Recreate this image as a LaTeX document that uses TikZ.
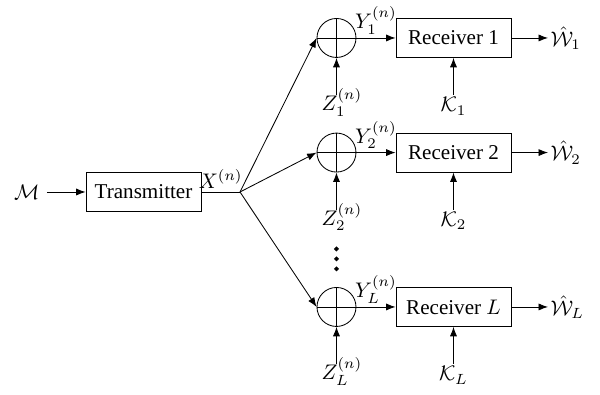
\documentclass[tikz,border=0pt]{standalone}
\usepackage[]{amsmath}
\usepackage[]{amssymb}
\usepackage[no-math]{fontspec}
\setmainfont{Liberation Serif}
\usepackage[]{tikz}
\usetikzlibrary{arrows.meta}
\usetikzlibrary{positioning}
\tikzset{block/.style = {draw, rectangle, minimum width = 1.917cm, minimum height = 0.65cm, inner sep = 0}}
\tikzset{adder/.style = {draw, circle, minimum size = 0.65cm, inner sep = 0}}
\tikzset{lbl/.style = {inner sep = 1.5pt}}
\tikzset{sig/.style = {-{Latex[length=4.5pt,width=3.4pt]}}}

\begin{document}
\begin{tikzpicture}
            \useasboundingbox (0,0) rectangle (10,6.583);
            % transmitter side
            \node [anchor=east] (msg) at (0.78,3.383) {$\mathcal{M}$};
            \node [block] (tx) at (2.392,3.383) {Transmitter};
            \coordinate (jn) at (4.0,3.383);
            \draw [sig] (msg.east)--(tx.west);
            \draw [] (tx.east)-- node [above, lbl] (xlab) {$X^{(n)}$} (jn);
            % adders
            \node [adder] (add1) at (5.608,5.95) {};
            \node [adder] (add2) at (5.608,4.04) {};
            \node [adder] (addL) at (5.608,1.467) {};
            \draw [] (add1.north)--(add1.south) (add1.west)--(add1.east);
            \draw [] (add2.north)--(add2.south) (add2.west)--(add2.east);
            \draw [] (addL.north)--(addL.south) (addL.west)--(addL.east);
            \draw [sig] (jn)--(add1.west);
            \draw [sig] (jn)--(add2.west);
            \draw [sig] (jn)--(addL.west);
            \filldraw [] (5.608,2.433) circle (0.032) (5.608,2.267) circle (0.032) (5.608,2.1) circle (0.032);
            % receivers
            \node [block] (rec1) at (7.558,5.95) {Receiver 1};
            \node [block] (rec2) at (7.558,4.04) {Receiver 2};
            \node [block] (recL) at (7.558,1.467) {Receiver $L$};
            \draw [sig] (add1.east)-- node [above, lbl] (ylab1) {$Y_1^{(n)}$} (rec1.west);
            \draw [sig] (add2.east)-- node [above, lbl] (ylab2) {$Y_2^{(n)}$} (rec2.west);
            \draw [sig] (addL.east)-- node [above, lbl] (ylabL) {$Y_L^{(n)}$} (recL.west);
            % keys
            \node [anchor=north, inner sep=1pt] (k1) at (7.558,5.0) {$\mathcal{K}_1$};
            \node [anchor=north, inner sep=1pt] (k2) at (7.558,3.09) {$\mathcal{K}_2$};
            \node [anchor=north, inner sep=1pt] (kL) at (7.558,0.517) {$\mathcal{K}_L$};
            \draw [sig] (k1)--(rec1);
            \draw [sig] (k2)--(rec2);
            \draw [sig] (kL)--(recL);
            % noise
            \node [anchor=north, inner sep=1pt] (z1) at (5.7,5.15) {$Z_1^{(n)}$};
            \node [anchor=north, inner sep=1pt] (z2) at (5.7,3.24) {$Z_2^{(n)}$};
            \node [anchor=north, inner sep=1pt] (zL) at (5.7,0.667) {$Z_L^{(n)}$};
            \draw [sig] (k1.north -| add1)--(add1);
            \draw [sig] (k2.north -| add2)--(add2);
            \draw [sig] (kL.north -| addL)--(addL);
            % outputs
            \node [anchor=west, inner sep=1pt] (w1) at (9.133,5.95) {$\hat{\mathcal{W}}_1$};
            \node [anchor=west, inner sep=1pt] (w2) at (9.133,4.04) {$\hat{\mathcal{W}}_2$};
            \node [anchor=west, inner sep=1pt] (wL) at (9.133,1.467) {$\hat{\mathcal{W}}_L$};
            \draw [sig] (rec1.east)--(w1.west);
            \draw [sig] (rec2.east)--(w2.west);
            \draw [sig] (recL.east)--(wL.west);
            
        \end{tikzpicture}
\end{document}
